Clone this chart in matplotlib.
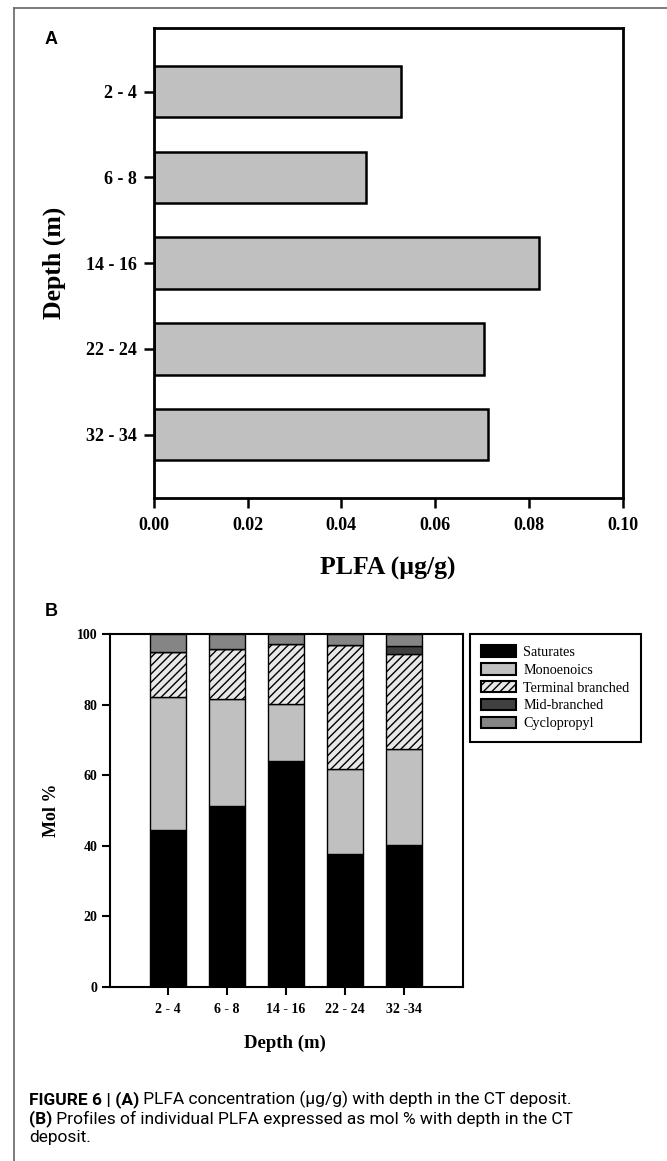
import matplotlib
matplotlib.use("Agg")
import matplotlib.pyplot as plt
from matplotlib.patches import Patch
from matplotlib.lines import Line2D

# ---------------- data ----------------
depths_a = ["2 - 4", "6 - 8", "14 - 16", "22 - 24", "32 - 34"]
plfa = [0.0527, 0.0453, 0.0821, 0.0704, 0.0712]

depths_b = ["2 - 4", "6 - 8", "14 - 16", "22 - 24", "32 -34"]
saturates = [44.5, 51.2, 64.1, 37.6, 40.3]
monoenoics = [37.6, 30.4, 16.1, 24.2, 27.1]
terminal_branched = [12.9, 14.2, 17.0, 35.2, 27.0]
mid_branched = [0.0, 0.0, 0.0, 0.0, 2.3]
cyclopropyl = [5.0, 4.2, 2.8, 3.0, 3.3]

series_names = ["Saturates", "Monoenoics", "Terminal branched", "Mid-branched", "Cyclopropyl"]
xticks_a = [0.00, 0.02, 0.04, 0.06, 0.08, 0.10]
yticks_b = [0, 20, 40, 60, 80, 100]

# ---------------- style ----------------
SERIF = ["Liberation Serif", "DejaVu Serif"]
SANS = ["Liberation Sans", "DejaVu Sans"]
CAP = ["Roboto", "Liberation Sans", "DejaVu Sans"]
plt.rcParams["hatch.linewidth"] = 1.0
plt.rcParams["font.family"] = SERIF

W, H = 667, 1161
fig = plt.figure(figsize=(W / 100, H / 100), dpi=100)


def fx(px):
    return px / W


def fy(py):
    return 1 - py / H


# outer frame (left + top)
fig.add_artist(Line2D([fx(14), fx(14)], [0, fy(8)], transform=fig.transFigure, color="#666666", lw=1.2))
fig.add_artist(Line2D([fx(14), 1], [fy(8), fy(8)], transform=fig.transFigure, color="#666666", lw=1.2))

# ---------------- panel A ----------------
axA = fig.add_axes([fx(154), fy(498), fx(622.5) - fx(154), fy(28.3) - fy(498)])
ypos = list(range(len(depths_a)))
axA.barh(ypos, plfa, height=0.6, color="#c0c0c0", edgecolor="black", linewidth=1.8)
axA.set_xlim(0, 0.10)
axA.set_ylim(len(depths_a) - 1 + 0.74, -0.74)
axA.set_xticks(xticks_a)
axA.set_xticklabels([f"{v:.2f}" for v in xticks_a])
axA.set_yticks(ypos)
axA.set_yticklabels(depths_a)
for s in axA.spines.values():
    s.set_linewidth(2.0)
axA.tick_params(axis="both", direction="out", length=7, width=1.8, labelsize=13)
axA.tick_params(axis="x", pad=7)
axA.tick_params(axis="y", pad=5)
for lab in axA.get_xticklabels() + axA.get_yticklabels():
    lab.set_fontweight("bold")
axA.set_xlabel("PLFA (µg/g)", fontsize=18.5, fontweight="bold")
axA.xaxis.set_label_coords(0.5, -0.149)
axA.xaxis.label.set_va("center")
axA.set_ylabel("Depth (m)", fontsize=18.5, fontweight="bold")
axA.yaxis.set_label_coords(-0.212, 0.501)
axA.yaxis.label.set_va("center")

fig.text(fx(51), fy(40), "A", family=SANS, fontweight="bold", fontsize=13, ha="center", va="center")
fig.text(fx(51), fy(612), "B", family=SANS, fontweight="bold", fontsize=13, ha="center", va="center")

# ---------------- panel B ----------------
axB = fig.add_axes([fx(110), fy(987), fx(463) - fx(110), fy(634) - fy(987)])
xpos = list(range(len(depths_b)))
stack = [saturates, monoenoics, terminal_branched, mid_branched, cyclopropyl]
faces = ["black", "#c0c0c0", "#e8e8e8", "#404040", "#858585"]
hatches = [None, None, "////", None, None]
bottom = [0.0] * len(xpos)
handles = []
for vals, name, fc, ht in zip(stack, series_names, faces, hatches):
    axB.bar(xpos, vals, width=0.6, bottom=bottom, color=fc, edgecolor="black",
            linewidth=1.0, hatch=ht)
    bottom = [b + v for b, v in zip(bottom, vals)]
    handles.append(Patch(facecolor=fc, edgecolor="black", hatch=ht, linewidth=1.5, label=name))
axB.set_xlim(-0.98, len(xpos) - 1 + 1.0)
axB.set_ylim(0, 100)
axB.set_yticks(yticks_b)
axB.set_xticks(xpos)
axB.set_xticklabels(depths_b)
for s in axB.spines.values():
    s.set_linewidth(1.5)
axB.tick_params(axis="both", direction="out", length=5.5, width=1.5, labelsize=10)
axB.tick_params(axis="x", pad=6)
for lab in axB.get_xticklabels() + axB.get_yticklabels():
    lab.set_fontweight("bold")
axB.set_xlabel("Depth (m)", fontsize=13.5, fontweight="bold")
axB.xaxis.set_label_coords(0.496, -0.160)
axB.xaxis.label.set_va("center")
axB.set_ylabel("Mol %", fontsize=13, fontweight="bold")
axB.yaxis.set_label_coords(-0.165, 0.501)
axB.yaxis.label.set_va("center")

leg = fig.legend(handles=handles, loc="upper left", bbox_to_anchor=(fx(470), fy(634)),
                 bbox_transform=fig.transFigure, frameon=True, fancybox=False,
                 edgecolor="black", framealpha=1, borderaxespad=0, borderpad=0.8,
                 handlelength=2.45, handleheight=0.86, handletextpad=0.5,
                 labelspacing=0.3, prop={"family": SERIF, "size": 10.2})
leg.get_frame().set_linewidth(1.5)

# ---------------- caption ----------------
cap_size = 12.5
t1 = fig.text(fx(29), fy(1104), "FIGURE 6 | (A)", family=CAP, fontweight="bold",
              fontsize=cap_size, ha="left", va="baseline")
axB.annotate(" PLFA concentration (µg/g) with depth in the CT deposit.", xy=(1, 0),
             xycoords=t1, family=CAP, fontsize=cap_size, ha="left", va="bottom",
             annotation_clip=False)
t2 = fig.text(fx(29), fy(1123), "(B)", family=CAP, fontweight="bold",
              fontsize=cap_size, ha="left", va="baseline")
axB.annotate(" Profiles of individual PLFA expressed as mol % with depth in the CT", xy=(1, 0),
             xycoords=t2, family=CAP, fontsize=cap_size, ha="left", va="bottom",
             annotation_clip=False)
fig.text(fx(29), fy(1142), "deposit.", family=CAP, fontsize=cap_size, ha="left", va="baseline")

fig.savefig("out.png", dpi=100)
